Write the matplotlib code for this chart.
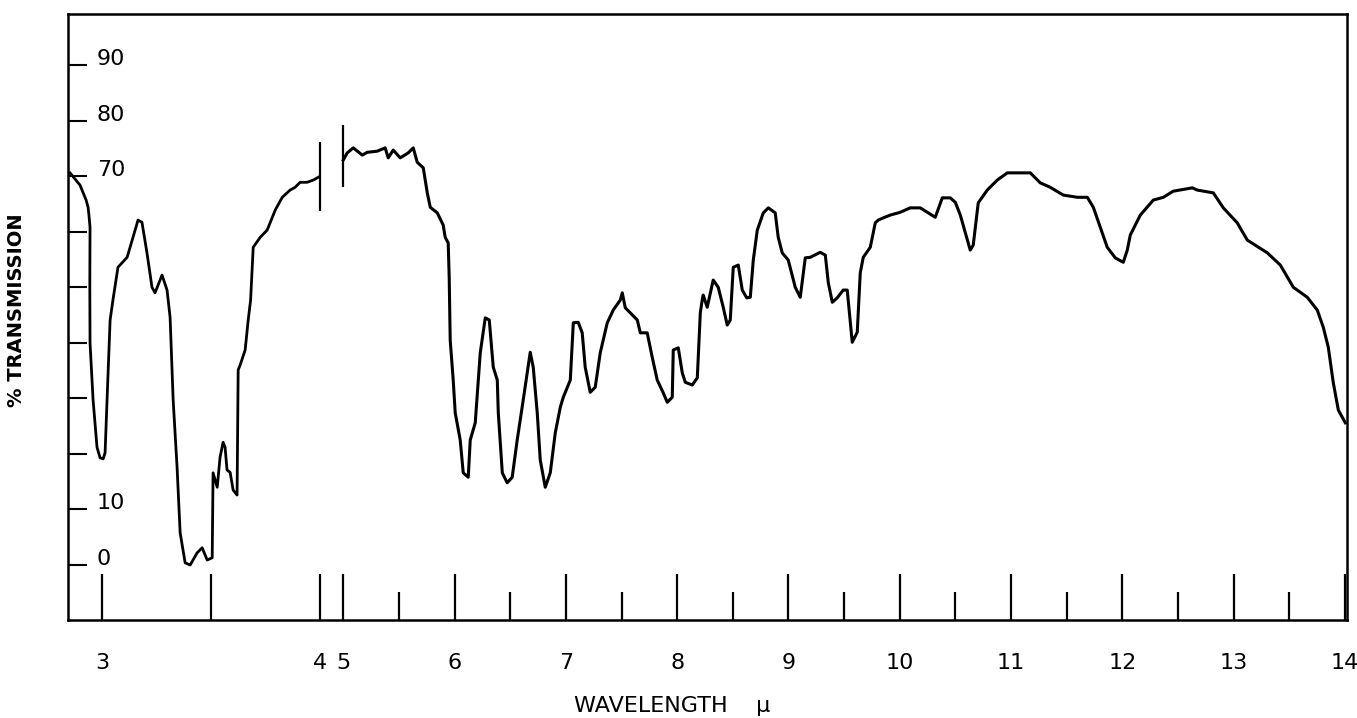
import numpy as np
import matplotlib
matplotlib.use("Agg")
import matplotlib.pyplot as plt
from matplotlib.transforms import blended_transform_factory

# ---- data (wavelength in microns, % transmission) ----
wl_short = [2.853, 2.899, 2.927, 2.936, 2.940, 2.945, 2.944, 2.945, 2.959, 2.977,
            2.991, 3.005, 3.014, 3.023, 3.037, 3.050, 3.073, 3.115, 3.142, 3.165,
            3.183, 3.206, 3.229, 3.243, 3.275, 3.298, 3.312, 3.326, 3.344, 3.358,
            3.381, 3.404, 3.436, 3.459, 3.482, 3.505, 3.509, 3.528, 3.541, 3.555,
            3.564, 3.573, 3.587, 3.601, 3.619, 3.624, 3.633, 3.656, 3.670, 3.681,
            3.693, 3.725, 3.757, 3.794, 3.826, 3.862, 3.885, 3.908, 3.940, 3.968,
            3.991]
tr_short = [70.6, 68.4, 65.7, 64.4, 63.0, 60.8, 50.0, 40.0, 29.7, 21.2,
            19.3, 19.1, 20.2, 29.7, 44.1, 47.7, 53.6, 55.4, 59.0, 62.1,
            61.7, 56.2, 50.0, 49.0, 52.2, 49.5, 44.6, 29.7, 17.6, 5.8,
            0.4, 0.0, 2.2, 3.1, 0.9, 1.3, 16.6, 14.0, 19.4, 22.1,
            21.2, 17.1, 16.7, 13.5, 12.6, 35.1, 36.0, 38.7, 44.1, 47.7,
            57.2, 59.0, 60.3, 63.9, 66.2, 67.5, 68.0, 68.9, 68.9, 69.3,
            69.8]

wl_long = [5.000, 5.036, 5.090, 5.171, 5.216, 5.305, 5.377, 5.404, 5.449, 5.512,
           5.584, 5.629, 5.665, 5.719, 5.755, 5.782, 5.845, 5.898, 5.916, 5.943,
           5.952, 5.961, 5.988, 6.006, 6.051, 6.078, 6.123, 6.141, 6.186, 6.231,
           6.276, 6.312, 6.348, 6.384, 6.393, 6.429, 6.473, 6.518, 6.563, 6.617,
           6.680, 6.707, 6.743, 6.770, 6.815, 6.860, 6.905, 6.950, 6.977, 7.040,
           7.067, 7.111, 7.147, 7.174, 7.219, 7.264, 7.309, 7.372, 7.426, 7.489,
           7.507, 7.534, 7.579, 7.642, 7.669, 7.731, 7.776, 7.821, 7.875, 7.911,
           7.956, 7.965, 8.010, 8.046, 8.073, 8.136, 8.181, 8.208, 8.225, 8.234,
           8.270, 8.324, 8.369, 8.414, 8.450, 8.477, 8.504, 8.549, 8.585, 8.625,
           8.657, 8.684, 8.720, 8.774, 8.819, 8.881, 8.908, 8.944, 8.998, 9.061,
           9.106, 9.151, 9.196, 9.286, 9.331, 9.358, 9.394, 9.438, 9.492, 9.528,
           9.573, 9.618, 9.645, 9.672, 9.735, 9.780, 9.807, 9.852, 9.915, 10.004,
           10.094, 10.184, 10.247, 10.319, 10.382, 10.454, 10.499, 10.544, 10.589, 10.633,
           10.660, 10.705, 10.786, 10.876, 10.966, 11.173, 11.262, 11.352, 11.469, 11.595,
           11.685, 11.739, 11.802, 11.864, 11.936, 12.008, 12.044, 12.071, 12.161, 12.278,
           12.368, 12.457, 12.628, 12.673, 12.817, 12.907, 13.032, 13.122, 13.302, 13.419,
           13.536, 13.661, 13.751, 13.805, 13.850, 13.895, 13.940, 14.003]
tr_long = [72.9, 74.2, 75.1, 73.8, 74.3, 74.5, 75.1, 73.3, 74.7, 73.3,
           74.2, 75.1, 72.5, 71.5, 67.0, 64.4, 63.4, 61.2, 59.0, 58.0,
           51.8, 40.5, 33.3, 27.4, 22.5, 16.6, 15.8, 22.5, 25.6, 38.2,
           44.5, 44.1, 35.6, 33.3, 27.4, 16.6, 14.8, 15.8, 22.5, 29.7,
           38.3, 35.6, 27.4, 18.9, 14.0, 16.6, 23.8, 28.4, 30.2, 33.3,
           43.6, 43.7, 41.8, 35.6, 31.1, 32.0, 38.2, 43.6, 45.9, 47.7,
           49.0, 46.3, 45.4, 44.1, 41.8, 41.8, 37.4, 33.3, 31.0, 29.3,
           30.2, 38.7, 39.1, 34.6, 32.9, 32.4, 33.7, 45.4, 47.7, 48.6,
           46.4, 51.3, 50.0, 46.4, 43.2, 44.1, 53.6, 54.0, 49.5, 48.1,
           48.2, 54.9, 60.3, 63.4, 64.3, 63.4, 59.0, 56.2, 54.9, 50.0,
           48.2, 55.3, 55.4, 56.3, 55.8, 50.8, 47.3, 48.1, 49.5, 49.5,
           40.1, 41.9, 52.6, 55.4, 57.2, 61.6, 62.1, 62.5, 63.0, 63.5,
           64.3, 64.3, 63.5, 62.6, 66.1, 66.1, 65.3, 63.0, 59.8, 56.7,
           57.6, 65.2, 67.5, 69.3, 70.6, 70.6, 68.8, 68.0, 66.6, 66.2,
           66.2, 64.4, 60.8, 57.2, 55.3, 54.5, 56.7, 59.4, 63.0, 65.7,
           66.2, 67.3, 67.9, 67.5, 67.0, 64.3, 61.6, 58.5, 56.2, 54.0,
           50.0, 48.2, 45.9, 42.8, 39.2, 32.8, 27.9, 25.6]

# chart-paper break markers (wavelength, low %, high %)
break_wl = [4.0, 5.0]
break_lo = [63.7, 68.0]
break_hi = [76.1, 79.3]

x_major = [3, 3.5, 4, 5, 6, 7, 8, 9, 10, 11, 12, 13, 14]
x_major_labels = ['3', '', '4', '5', '6', '7', '8', '9', '10', '11', '12', '13', '14']
x_minor = [5.5, 6.5, 7.5, 8.5, 9.5, 10.5, 11.5, 12.5, 13.5]
y_ticks = [0, 10, 20, 30, 40, 50, 60, 70, 80, 90]
y_labeled = [0, 10, 70, 80, 90]

# ---- piecewise wavelength scale (expanded 3-4 um, compressed break 4-5 um) ----
scale_w = np.array([2.0, 3.0, 4.0, 5.0, 14.0, 15.0])
scale_u = np.array([-1.96, 0.0, 1.96, 2.167, 11.167, 12.167])

def fwd(w):
    return np.interp(w, scale_w, scale_u)

def inv(u):
    return np.interp(u, scale_u, scale_w)

fig = plt.figure(figsize=(13.57, 7.18), dpi=100)
W, H = 1357, 718
ax = fig.add_axes([68 / W, 1 - 620 / H, (1347 - 68) / W, (620 - 14) / H])
ax.set_xscale('function', functions=(fwd, inv))
ax.set_xlim(2.844, 14.018)
ax.set_ylim(-9.9, 99.2)

ax.plot(wl_short, tr_short, color='black', lw=2.0, solid_joinstyle='round')
ax.plot(wl_long, tr_long, color='black', lw=2.2, solid_joinstyle='round')
ax.vlines(break_wl, break_lo, break_hi, color='black', lw=1.6)

for s in ax.spines.values():
    s.set_linewidth(1.8)

ax.set_xticks(x_major)
ax.set_xticklabels(x_major_labels, fontsize=16)
ax.set_xticks(x_minor, minor=True)
ax.tick_params(axis='x', which='major', direction='in', length=33, width=1.6, pad=24)
ax.tick_params(axis='x', which='minor', direction='in', length=20, width=1.6)

ax.set_yticks(y_ticks)
ax.set_yticklabels([])
ax.tick_params(axis='y', which='major', direction='in', length=14, width=1.5)
ax.tick_params(axis='y', which='minor', left=False)

trans = blended_transform_factory(ax.transAxes, ax.transData)
for v in y_labeled:
    ax.text(0.0225, v, str(v), transform=trans, ha='left', va='baseline', fontsize=16)

fig.text(17 / W, 1 - 310 / H, '% TRANSMISSION', rotation=90, ha='center', va='center',
         fontsize=14, fontweight='bold')
fig.text(672 / W, 1 - 706 / H, 'WAVELENGTH    μ', ha='center', va='center', fontsize=16)

fig.savefig('out.png', dpi=100)
